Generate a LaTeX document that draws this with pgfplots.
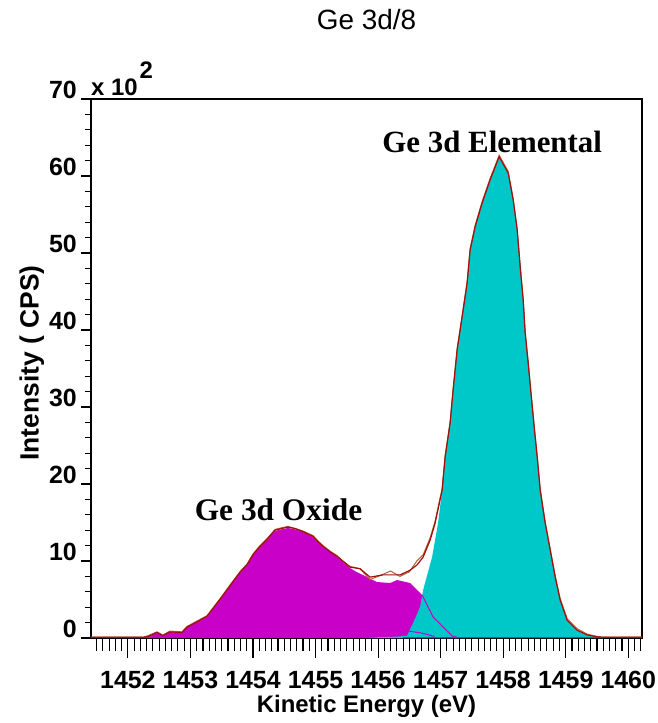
\documentclass[border=0pt]{standalone}
\usepackage{pgfplots}
\pgfplotsset{compat=1.18}
\usepackage{fontspec}
\setmainfont{Liberation Sans}
\newfontfamily\serifbold{Liberation Serif}[BoldFont={Liberation Serif Bold}]

\definecolor{oxidefill}{RGB}{200,0,200}
\definecolor{elemfill}{RGB}{0,200,200}
\definecolor{envcol}{RGB}{160,16,16}
\definecolor{rawcol}{RGB}{176,96,48}

% tick comb below the energy axis (positions in eV, length in intensity units)
\pgfplotstableread{
x      len
1452  -2.6
1453  -2.6
1454  -2.6
1455  -2.6
1456  -2.6
1457  -2.6
1458  -2.6
1459  -2.6
1460  -2.6
}\majorticks
\pgfplotstableread{
x       len
1451.5 -1.7
1451.6 -1.7
1451.7 -1.7
1451.8 -1.7
1451.9 -1.7
1452.1 -1.7
1452.2 -1.7
1452.3 -1.7
1452.4 -1.7
1452.5 -1.7
1452.6 -1.7
1452.7 -1.7
1452.8 -1.7
1452.9 -1.7
1453.1 -1.7
1453.2 -1.7
1453.3 -1.7
1453.4 -1.7
1453.5 -1.7
1453.6 -1.7
1453.7 -1.7
1453.8 -1.7
1453.9 -1.7
1454.1 -1.7
1454.2 -1.7
1454.3 -1.7
1454.4 -1.7
1454.5 -1.7
1454.6 -1.7
1454.7 -1.7
1454.8 -1.7
1454.9 -1.7
1455.1 -1.7
1455.2 -1.7
1455.3 -1.7
1455.4 -1.7
1455.5 -1.7
1455.6 -1.7
1455.7 -1.7
1455.8 -1.7
1455.9 -1.7
1456.1 -1.7
1456.2 -1.7
1456.3 -1.7
1456.4 -1.7
1456.5 -1.7
1456.6 -1.7
1456.7 -1.7
1456.8 -1.7
1456.9 -1.7
1457.1 -1.7
1457.2 -1.7
1457.3 -1.7
1457.4 -1.7
1457.5 -1.7
1457.6 -1.7
1457.7 -1.7
1457.8 -1.7
1457.9 -1.7
1458.1 -1.7
1458.2 -1.7
1458.3 -1.7
1458.4 -1.7
1458.5 -1.7
1458.6 -1.7
1458.7 -1.7
1458.8 -1.7
1458.9 -1.7
1459.1 -1.7
1459.2 -1.7
1459.3 -1.7
1459.4 -1.7
1459.5 -1.7
1459.6 -1.7
1459.7 -1.7
1459.8 -1.7
1459.9 -1.7
1460.1 -1.7
1460.2 -1.7
}\minorticks

\begin{document}
\begin{tikzpicture}
\useasboundingbox (-91bp,-85bp) rectangle (567bp,638bp);
\begin{axis}[
  at={(0,0)}, anchor=south west,
  scale only axis,
  width=551bp, height=539bp,
  xmin=1451.41, xmax=1460.22,
  ymin=0, ymax=70,
  clip=false,
  scaled ticks=false,
  tick align=outside,
  tick style={black, line width=1.3bp},
  axis line style={black, line width=1.5bp},
  /pgf/number format/assume math mode=true,
  /pgf/number format/1000 sep={},
  ticklabel style={font=\fontsize{25}{27}\selectfont\bfseries, inner sep=0pt},
  xtick={1452,1453,...,1460},
  xtick pos=bottom,
  major x tick style={draw=none},
  xticklabel style={anchor=north, yshift=-23bp},
  ytick={0,10,...,70},
  minor y tick num=4,
  ytick pos=left,
  major tick length=10bp,
  minor tick length=6bp,
  yticklabel style={anchor=south east, xshift=-4bp},
  title={Ge 3d/8},
  title style={font=\fontsize{28}{30}\selectfont, anchor=base,
    at={(axis description cs:0.5,1.117)}},
  xlabel={Kinetic Energy (eV)},
  xlabel style={font=\fontsize{24}{26}\selectfont\bfseries, anchor=base,
    at={(axis description cs:0.5,-0.1373)}},
  ylabel={Intensity ( CPS)},
  ylabel style={font=\fontsize{26.5}{28}\selectfont\bfseries, anchor=base,
    at={(axis description cs:-0.095,0.51)}},
]
% oxide components (filled envelope)
\addplot[fill=oxidefill, draw=none] coordinates {
 (1451.9,0) (1452.2,0) (1452.32,0.13) (1452.464,0.65) (1452.56,0.26)
 (1452.672,0.78) (1452.864,0.65) (1452.944,1.43) (1453.104,2.08)
 (1453.264,2.73) (1453.472,4.94) (1453.68,7.27) (1453.8,8.5)
 (1453.904,9.48) (1454.0,10.78) (1454.1,11.8) (1454.224,12.73)
 (1454.352,13.9) (1454.45,14.1) (1454.56,14.29) (1454.68,14.1)
 (1454.8,13.77) (1454.96,13.12) (1455.04,12.5) (1455.12,11.82)
 (1455.23,11.2) (1455.344,10.52) (1455.45,9.8) (1455.552,9.09)
 (1455.65,8.6) (1455.76,8.18) (1455.87,7.7) (1455.984,7.27)
 (1456.192,7.14) (1456.304,7.53) (1456.512,7.14) (1456.624,6.23)
 (1456.704,5.58) (1456.88,2.73) (1457.04,1.43) (1457.184,0.26)
 (1457.31,0)
} \closedcycle;
% elemental component
\addplot[fill=elemfill, draw=none] coordinates {
 (1455.85,0) (1456.0,0.1) (1456.2,0.15) (1456.35,0.2) (1456.464,0.3)
 (1456.56,1.95) (1456.672,4.03) (1456.72,6.23) (1456.864,10.5)
 (1456.96,15.0) (1457.024,19.2) (1457.072,23.5) (1457.152,27.9)
 (1457.2,32.2) (1457.264,37.4) (1457.344,41.7) (1457.424,46.1)
 (1457.472,50.4) (1457.552,53.4) (1457.664,56.5) (1457.792,59.5)
 (1457.936,62.5) (1458.08,60.4) (1458.16,56.9) (1458.224,53.0)
 (1458.272,48.2) (1458.32,43.9) (1458.352,39.6) (1458.4,35.7)
 (1458.44,32.2) (1458.49,27.9) (1458.544,23.5) (1458.592,19.2)
 (1458.672,14.9) (1458.752,11.4) (1458.832,7.9) (1458.912,4.9)
 (1459.024,2.3) (1459.184,1.0) (1459.344,0.4) (1459.504,0.1) (1459.6,0)
} \closedcycle;
% oxide component outlines over the elemental peak
\addplot[oxidefill, line width=1bp] coordinates {
 (1456.704,5.58) (1456.88,2.73) (1457.04,1.43) (1457.184,0.26) (1457.31,0)
};
\addplot[oxidefill, line width=1bp] coordinates {
 (1456.30,1.2) (1456.50,0.9) (1456.72,0.6) (1456.90,0.2)
};
\addplot[oxidefill, line width=1bp] coordinates {
 (1456.4,0.12) (1460.1,0.12)
};
% measured spectrum
\addplot[rawcol, line width=1bp] coordinates {
 (1451.41,0.1) (1452.25,0.1) (1452.32,0.3) (1452.464,0.8) (1452.56,0.4)
 (1452.672,0.9) (1452.864,0.8) (1452.944,1.5) (1453.104,2.2)
 (1453.264,2.9) (1453.472,5.1) (1453.68,7.4) (1453.8,8.7)
 (1453.904,9.6) (1454.0,10.9) (1454.1,11.9) (1454.224,12.9)
 (1454.352,14.1) (1454.45,14.3) (1454.56,14.5) (1454.68,14.2)
 (1454.8,13.9) (1454.96,13.3) (1455.04,12.6) (1455.12,12.0)
 (1455.23,11.3) (1455.344,10.7) (1455.45,9.9) (1455.552,9.3)
 (1455.71,9.0) (1455.87,7.6) (1456.0,8.0) (1456.2,8.7) (1456.35,8.0)
 (1456.5,8.6) (1456.62,10.0) (1456.72,10.8) (1456.832,13.0)
 (1456.912,15.2) (1457.024,19.4) (1457.072,23.7) (1457.152,28.1)
 (1457.2,32.4) (1457.264,37.6) (1457.344,41.9) (1457.424,46.3)
 (1457.472,50.6) (1457.552,53.6) (1457.664,56.7) (1457.792,59.7)
 (1457.936,62.7) (1458.08,60.6) (1458.16,57.1) (1458.224,53.2)
 (1458.272,48.4) (1458.32,44.1) (1458.352,39.8) (1458.4,35.9)
 (1458.44,32.4) (1458.49,28.1) (1458.544,23.7) (1458.592,19.4)
 (1458.672,15.1) (1458.752,11.6) (1458.832,8.1) (1458.912,5.1)
 (1459.024,2.5) (1459.184,1.2) (1459.344,0.5) (1459.504,0.2)
 (1459.6,0.1) (1460.22,0.1)
};
% fitted envelope
\addplot[envcol, line width=1.2bp] coordinates {
 (1451.41,0.1) (1452.25,0.1) (1452.32,0.2) (1452.464,0.7) (1452.56,0.3)
 (1452.672,0.8) (1452.864,0.7) (1452.944,1.4) (1453.104,2.1)
 (1453.264,2.8) (1453.472,5.0) (1453.68,7.3) (1453.8,8.6)
 (1453.904,9.5) (1454.0,10.8) (1454.1,11.8) (1454.224,12.8)
 (1454.352,14.0) (1454.45,14.2) (1454.56,14.4) (1454.68,14.2)
 (1454.8,13.8) (1454.96,13.2) (1455.04,12.5) (1455.12,11.9)
 (1455.23,11.2) (1455.344,10.6) (1455.45,9.9) (1455.552,9.2)
 (1455.712,9.0) (1455.872,7.9) (1456.08,8.2) (1456.352,8.2)
 (1456.512,8.8) (1456.624,9.5) (1456.72,10.5) (1456.832,12.7)
 (1456.912,14.9) (1457.024,19.2) (1457.072,23.5) (1457.152,27.9)
 (1457.2,32.2) (1457.264,37.4) (1457.344,41.7) (1457.424,46.1)
 (1457.472,50.4) (1457.552,53.4) (1457.664,56.5) (1457.792,59.5)
 (1457.936,62.5) (1458.08,60.4) (1458.16,56.9) (1458.224,53.0)
 (1458.272,48.2) (1458.32,43.9) (1458.352,39.6) (1458.4,35.7)
 (1458.44,32.2) (1458.49,27.9) (1458.544,23.5) (1458.592,19.2)
 (1458.672,14.9) (1458.752,11.4) (1458.832,7.9) (1458.912,4.9)
 (1459.024,2.3) (1459.184,1.0) (1459.344,0.4) (1459.504,0.15)
 (1459.6,0.1) (1460.22,0.1)
};
% energy-axis tick comb
\addplot[ycomb, black, line width=1.1bp, mark=none] table[x=x, y=len] {\majorticks};
\addplot[ycomb, black, line width=1.1bp, mark=none] table[x=x, y=len] {\minorticks};
% peak labels
\node[font=\serifbold\bfseries\fontsize{31}{33}\selectfont, anchor=base]
  at (axis cs:1457.824,63.1) {Ge 3d Elemental};
\node[font=\serifbold\bfseries\fontsize{31.5}{33}\selectfont, anchor=base]
  at (axis cs:1454.408,15.3) {Ge 3d Oxide};
% axis multiplier
\node[font=\fontsize{24}{26}\selectfont\bfseries, anchor=base west, inner sep=0pt]
  at (rel axis cs:0,1) [yshift=3.5bp] {x 10\hspace{2bp}\raisebox{17bp}{2}};
\end{axis}
\end{tikzpicture}
\end{document}
